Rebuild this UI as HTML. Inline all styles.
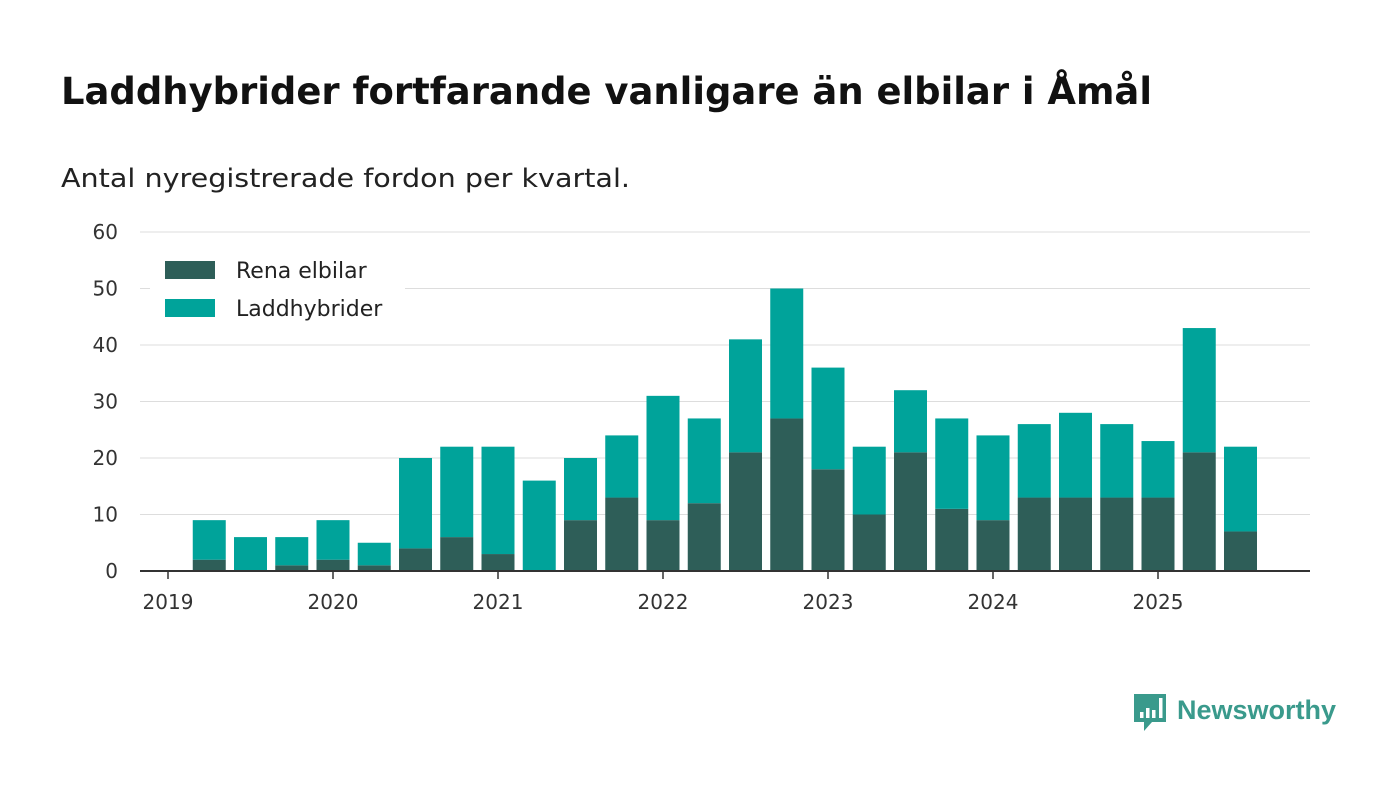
<!DOCTYPE html>
<html><head><meta charset="utf-8"><style>
body{margin:0;width:1400px;height:793px;background:#fff;overflow:hidden;font-family:"DejaVu Sans","Liberation Sans",sans-serif;}
h1{position:absolute;left:61px;top:70px;margin:0;font-size:37px;font-weight:bold;color:#111;white-space:nowrap;}
.sub{position:absolute;left:61px;top:164px;font-size:26px;color:#222;white-space:nowrap;}
svg{position:absolute;left:0;top:0}
</style></head><body>
<svg id="c" width="1400" height="793"></svg>
<h1>Laddhybrider fortfarande vanligare än elbilar i Åmål</h1>
<div class="sub">Antal nyregistrerade fordon per kvartal.</div>
<script>
const quarters=["2019Q1","2019Q2","2019Q3","2019Q4","2020Q1","2020Q2","2020Q3","2020Q4","2021Q1","2021Q2","2021Q3","2021Q4","2022Q1","2022Q2","2022Q3","2022Q4","2023Q1","2023Q2","2023Q3","2023Q4","2024Q1","2024Q2","2024Q3","2024Q4","2025Q1","2025Q2","2025Q3"];
const elbilar=[0,2,0,1,2,1,4,6,3,0,9,13,9,12,21,27,18,10,21,11,9,13,13,13,13,21,7];
const laddhybrider=[0,7,6,5,7,4,16,16,19,16,11,11,22,15,20,23,18,12,11,16,15,13,15,13,10,22,15];
const yTicks=[0,10,20,30,40,50,60];
const xYears=["2019","2020","2021","2022","2023","2024","2025"];
const NS="http://www.w3.org/2000/svg",svg=document.getElementById('c');
const y=v=>571-v*(339/60);
const x=i=>168+i*41.25;
function mk(t,a,txt){const e=document.createElementNS(NS,t);for(const k in a)e.setAttribute(k,a[k]);if(txt!==undefined)e.textContent=txt;svg.appendChild(e);return e;}
yTicks.forEach(v=>{
 if(v>0){const g=mk('line',{x1:140,x2:1310,y1:y(v),y2:y(v),stroke:'#ddd','stroke-width':1});
 
 }
 const t=mk('text',{x:118,y:y(v)+7,'text-anchor':'end','font-size':20,fill:'#333'},v);
 
 
});
quarters.forEach((q,i)=>{
 const e=elbilar[i],l=laddhybrider[i];
 const b1=mk('rect',{x:x(i)-16.5,width:33,y:y(e),height:y(0)-y(e),fill:'#2e5e58'});
 
 
 const b2=mk('rect',{x:x(i)-16.5,width:33,y:y(e+l),height:y(e)-y(e+l),fill:'#00a39a'});
 
 
});
const ax=mk('line',{x1:140,x2:1310,y1:571,y2:571,stroke:'#333','stroke-width':2});


xYears.forEach((yr,k)=>{
 const i=k*4;
 const tk=mk('line',{x1:x(i),x2:x(i),y1:571,y2:579,stroke:'#333','stroke-width':1.5});
 
 
 const t=mk('text',{x:x(i),y:609,'text-anchor':'middle','font-size':20,fill:'#333'},yr);
 
 
});
const lb=mk('rect',{x:150,y:250,width:255,height:80,fill:'#fff'});


[["Rena elbilar","#2e5e58",270],["Laddhybrider","#00a39a",308]].forEach(([n,c,yy])=>{
 const s=mk('rect',{x:165,y:yy-9,width:50,height:18,fill:c});
 
 
 const t=mk('text',{x:236,y:yy+8,'font-size':22,fill:'#222'},n);
 
 
});
const lg=mk('path',{d:'M1134 694 h32 v28 h-14 l-8 9 v-9 h-10 z',fill:'#3a9a8c'});


[[1140,712,6],[1146,708,10],[1152,710,8],[1159,698,20]].forEach(([bx,by,bh])=>{mk('rect',{x:bx,y:by,width:3.5,height:bh,fill:'#fff'});});
const lt=mk('text',{x:1177,y:719,'font-size':27,'font-weight':'bold',fill:'#3a9a8c','font-family':'Liberation Sans, sans-serif',textLength:159},'Newsworthy');


// fit title/subtitle widths to reference
const h=document.querySelector('h1');h.style.transform='scaleX('+(1091/h.getBoundingClientRect().width)+')';h.style.transformOrigin='0 0';
const s=document.querySelector('.sub');s.style.transform='scaleX('+(569/s.getBoundingClientRect().width)+')';s.style.transformOrigin='0 0';
</script>
</body></html>
